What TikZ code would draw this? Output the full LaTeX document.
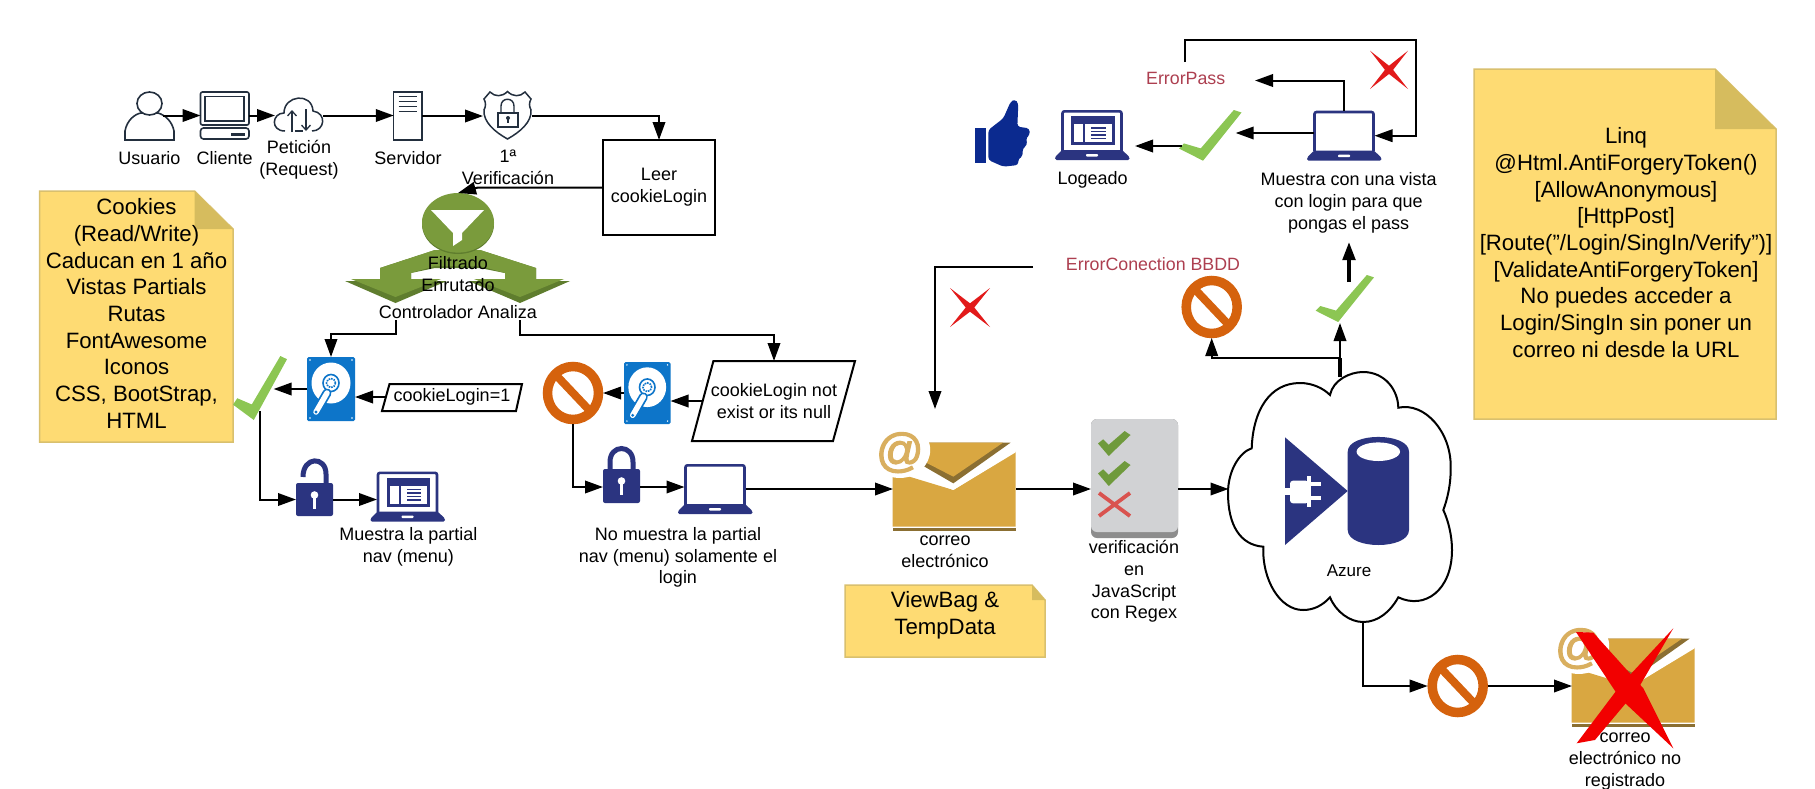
\documentclass[tikz,border=0pt]{standalone}
\usepackage{fontspec}
\setmainfont{Liberation Sans}
\newfontfamily\atfont[FakeBold=2.5]{Liberation Sans}
\usetikzlibrary{arrows.meta,calc}
\definecolor{navy}{HTML}{2B3480}
\definecolor{dkline}{HTML}{232F3E}
\definecolor{hddblue}{HTML}{0D75C9}
\definecolor{prohibc}{HTML}{D5620D}
\definecolor{chkgreen}{HTML}{8CC653}
\definecolor{chkdark}{HTML}{6F9A3C}
\definecolor{notey}{HTML}{FEDB73}
\definecolor{notebd}{HTML}{D9C06E}
\definecolor{notefold}{HTML}{D6BC5E}
\definecolor{envc}{HTML}{D9A741}
\definecolor{envd}{HTML}{8B6F32}
\definecolor{envat}{HTML}{D9AF5F}
\definecolor{panelg}{HTML}{D1D2D4}
\definecolor{panelb}{HTML}{8D8D8D}
\definecolor{panelx}{HTML}{D9534F}
\definecolor{grn}{HTML}{7A9B3C}
\definecolor{grnd}{HTML}{5F7D2E}
\definecolor{redx}{HTML}{E21A1A}
\definecolor{errc}{HTML}{AD3F50}
\definecolor{thumbc}{HTML}{0B2A8F}
\tikzset{
  arr/.style={draw=black,line width=2pt,-{Triangle[length=18pt,width=12.5pt]}},
  plain/.style={draw=black,line width=2pt},
  iconbox/.style={inner sep=0pt,outer sep=0pt,rectangle},
  lbl/.style={inner sep=0pt,outer sep=0pt,align=center,font=\fontsize{18}{21.7}\selectfont},
  notetxt/.style={inner sep=0pt,outer sep=0pt,align=center,font=\fontsize{22.2}{26.7}\selectfont},
  errtxt/.style={lbl,text=errc,font=\fontsize{17.8}{21}\selectfont},
  notebox/.style={fill=notey,draw=notebd,line width=1.5pt},
  foldbox/.style={fill=notefold},
  boxed/.style={draw=black,line width=2pt,fill=white},
}
\newcommand\yellownote[6]{%
  \path[notebox] (#1,#2) -- (#5,#2) -- (#3,#6) -- (#3,#4) -- (#1,#4) -- cycle;
  \fill[foldbox] (#5,#2) -- (#3,#6) -- (#5,#6) -- cycle;}
\newcommand\prohib[3]{%
  \node[iconbox,minimum width=60pt,minimum height=62pt] (#1) at (#2,#3) {};
  \draw[prohibc,line width=9.5pt] (#2,#3) ellipse [x radius=25.5pt,y radius=26.5pt];
  \draw[prohibc,line width=8pt] ($(#2,#3)+(-18,-19)$) -- ($(#2,#3)+(18,19)$);}
\newcommand\chk[5]{%
  \begin{scope}[shift={(#1,#2)},xscale=#3,yscale=#4]
  \fill[#5] (0,.76) -- (.385,1) -- (1,.05) -- (.877,0) -- (.348,.757) -- (.08,.66) -- cycle;
  \end{scope}}
\newcommand\fatchk[4]{%
  \begin{scope}[shift={(#1,#2)},xscale=#3,yscale=#4]
  \fill[chkdark] (0,.5) -- (.16,.33) -- (.33,.55) -- (.82,0) -- (1,.16) -- (.33,1) -- cycle;
  \end{scope}}
\newcommand\redcross[4]{%
  \begin{scope}[shift={(#1,#2)},xscale=#3,yscale=#4]
  \fill[redx] (0,0) -- (.56,.44) -- (1,1) -- (.44,.56) -- cycle;
  \fill[redx] (1,0) -- (.56,.56) -- (0,1) -- (.44,.44) -- cycle;
  \end{scope}}
\newcommand\hdd[5]{% name x y w h
  \node[iconbox,minimum width=#4pt,minimum height=#5pt,anchor=north west] (#1) at (#2,#3) {};
  \begin{scope}[shift={(#2,#3)},xscale=#4/48,yscale=#5/64]
  \fill[hddblue,rounded corners=1.5pt] (0,0) rectangle (48,64);
  \foreach \px/\py in {3/3,45/3,3/61,45/61}{\fill[white] (\px,\py) circle [radius=.8pt];}
  \fill[white] (24,26) ellipse [x radius=19.5pt,y radius=20.5pt];
  \draw[hddblue,line width=1.6pt] (24,26) ellipse [x radius=8pt,y radius=8.5pt];
  \draw[hddblue,line width=1.6pt,densely dotted] (24,26) ellipse [x radius=4.5pt,y radius=4.5pt];
  \draw[hddblue,line width=9pt,line cap=round] (20,36) -- (9,55);
  \draw[white,line width=5.5pt,line cap=round] (20,36) -- (9,55);
  \fill[hddblue] (9,55) circle [radius=1.6pt];
  \end{scope}}
\newcommand\laptop[3]{% name x y (x,y: left of base, top of screen)
  \node[iconbox,minimum width=61pt,minimum height=50pt,anchor=north west] (#1) at (#2+6.5,#3) {};
  \begin{scope}[shift={(#2,#3)}]
  \draw[navy,line width=2.6pt,fill=white,rounded corners=2pt] (7.5,41) -- (7.5,1.3) -- (66.5,1.3) -- (66.5,41);
  \fill[navy,rounded corners=1.5pt] (7,40) -- (67,40) -- (74.5,47) -- (74.5,50) -- (0,50) -- (0,47) -- cycle;
  \fill[white,rounded corners=.8pt] (31,44) rectangle (43,46.5);
  \end{scope}}
\newcommand\lappage[2]{%
  \begin{scope}[shift={(#1,#2)}]
  \fill[navy] (16,6) rectangle (59.5,35);
  \fill[white] (19,14) rectangle (28,32);
  \fill[white] (30,14) rectangle (56.5,32);
  \foreach \ly in {17,20.5,24,27.5}{\fill[navy] (36,\ly) rectangle (50.5,\ly+1.6);}
  \end{scope}}
\newcommand\envelope[2]{%
  \begin{scope}[shift={(540+#1,340+#2)},xscale=.4209,yscale=.3333]
  \fill[envc] (838,395) -- (982,450) -- (1130,335) -- (1130,560) -- (838,560) -- cycle;
  \fill[envd] (838,565) rectangle (1130,572);
  \fill[white] (1130,325) -- (982,445) -- (880,370) -- (880,395) -- (982,450) -- (1130,337) -- cycle;
  \fill[envd] (920,308) -- (1118,308) -- (982,430) -- (900,370) -- cycle;
  \fill[envc] (920,308) -- (1100,308) -- (982,410) -- (905,360) -- cycle;
  \fill[white] (855,330) ellipse [x radius=72pt,y radius=84pt];
  \node[inner sep=0pt,text=envat,font=\atfont\fontsize{47}{47}\selectfont] at (855,338) {@};
  \end{scope}}
\begin{document}
\begin{tikzpicture}[x=1pt,y=-1pt]
\useasboundingbox (0,0) rectangle (1815,788);
\fill[white] (0,0) rectangle (1815,788);

% ---- top row icons
\node[iconbox,minimum width=49pt,minimum height=48pt] (usuario) at (149.5,116) {};
\draw[dkline,line width=1.6pt,fill=white] (125,140) -- (125,131) .. controls (127,120) and (135,114) .. (141,113) -- (158,113) .. controls (165,115) and (172,121) .. (174,131) -- (174,140) -- cycle;
\draw[dkline,line width=1.6pt,fill=white] (149.5,103.5) ellipse [x radius=12.5pt,y radius=11.5pt];
\coordinate (usuOut) at (163,115.5);
\node[lbl] (tusuario) at (149.5,158) {Usuario};

\node[iconbox,minimum width=48.5pt,minimum height=47pt] (cliente) at (224.8,115.5) {};
\draw[dkline,line width=1.6pt,rounded corners=2pt] (200.5,92) rectangle (249,125);
\draw[dkline,line width=1.6pt] (205,96.5) rectangle (244,121);
\draw[dkline,line width=1.6pt,rounded corners=3pt] (200.5,128) rectangle (249,139);
\fill[dkline] (231,132.5) rectangle (245,135.5);
\node[lbl] (tcliente) at (224.6,158) {Cliente};

\node[iconbox,minimum width=48pt,minimum height=32pt] (nube) at (299,115.5) {};
\draw[dkline,line width=1.5pt] (285,131) .. controls (270,131) and (272,113) .. (284,113) .. controls (284,95) and (312,92) .. (313,111) .. controls (327,113) and (325,131) .. (312,131);
\draw[dkline,line width=1.5pt] (295,131) -- (303,131);
\draw[dkline,line width=1.3pt,-{Straight Barb[length=5pt,width=9pt]}] (292,132) -- (292,110);
\draw[dkline,line width=1.3pt,-{Straight Barb[length=5pt,width=9pt]}] (306,109) -- (306,131);
\node[lbl] (tpeticion) at (299,160) {Petición\\(Request)};

\node[iconbox,minimum width=28.5pt,minimum height=48pt] (servidor) at (408,116) {};
\draw[dkline,line width=1.6pt] (393.5,92) rectangle (422,140);
\foreach \ly in {96.7,101.7,106.7,111.7}{\draw[dkline,line width=1.4pt] (398.6,\ly) -- (417,\ly);}
\node[lbl] (tservidor) at (408,158.5) {Servidor};

\node[iconbox,minimum width=49pt,minimum height=48pt] (escudo) at (507.5,115.5) {};
\draw[dkline,line width=1.5pt] (507.5,91.5) .. controls (502,97) and (495,97) .. (490,92) -- (484,99) .. controls (486,103) and (486,106) .. (484,110) .. controls (483,122) and (495,132) .. (507.5,139) .. controls (520,132) and (532,122) .. (531,110) .. controls (529,106) and (529,103) .. (531,99) -- (525,92) .. controls (520,97) and (513,97) .. (507.5,91.5) -- cycle;
\draw[dkline,line width=1.4pt] (498,113) rectangle (518,127);
\draw[dkline,line width=1.4pt] (501,113) -- (501,106) .. controls (501,97) and (514,97) .. (514,106) -- (514,113);
\fill[dkline] (508,118) circle [radius=2pt];
\draw[dkline,line width=1.2pt] (508,118) -- (508,123);
\node[lbl] (tverif) at (508,167.5) {1ª\\Verificación};

% ---- Leer
\node[draw=black,line width=2pt,fill=white,lbl,minimum width=112pt,minimum height=95pt] (leer) at (659,187.5) {Leer\\cookieLogin};

% ---- Filter / double arrow
\fill[grnd] (435,250) -- (380,268) -- (380,281) -- (345,281) -- (395.5,303) -- (447,281) -- (411,281) -- (411,273) -- (435,268) -- (480,268) -- (505,273) -- (505,281) -- (468.5,281) -- (520,303) -- (570,281) -- (536,281) -- (536,268) -- (480,250) -- cycle;
\fill[grn] (435,250) -- (380,268) -- (380,279) -- (351,279) -- (395.5,297) -- (441,279) -- (411,279) -- (411,273) -- (435,266) -- (480,266) -- (505,273) -- (505,279) -- (474,279) -- (520,297) -- (564,279) -- (536,279) -- (536,268) -- (480,250) -- cycle;
\node[iconbox,minimum width=72pt,minimum height=60pt] (filtro) at (458,223) {};
\fill[grnd] (458,224) ellipse [x radius=36pt,y radius=30pt];
\fill[grn] (458,222.8) ellipse [x radius=36pt,y radius=29.8pt];
\fill[white] (431,210) -- (484,210) -- (462,233) -- (462,240) -- (453,246) -- (453,233) -- cycle;
\node[lbl] (tfiltro) at (458,274) {Filtrado\\Enrutado};
\node[lbl] (tctrl) at (458,312) {Controlador Analiza};
\coordinate (ctrlL) at (395.5,320);
\coordinate (ctrlR) at (520,320);

% ---- left note
\yellownote{39.5}{191}{233}{442}{194.5}{229}
\node[notetxt] (nota1) at (136.5,313.5) {Cookies\\(Read/Write)\\Caducan en 1 año\\Vistas Partials\\Rutas\\FontAwesome\\Iconos\\CSS, BootStrap,\\HTML};

% ---- left branch
\hdd{hddA}{307}{357}{48}{64}
\chk{233}{356}{54}{64}{chkgreen}
\coordinate (chkAin) at (273.6,389);
\coordinate (chkAout) at (260,411);
\path[boxed] (389.5,384) -- (522,384) -- (516,411) -- (382,411) -- cycle;
\node[lbl,minimum width=134pt,minimum height=27pt] (cookieA) at (452,397) {cookieLogin=1};
% open lock
\node[iconbox,minimum width=37pt,minimum height=33pt] (lockO) at (314.5,499.5) {};
\draw[navy,line width=5pt] (303,477) .. controls (303,456) and (326,456) .. (326,474) -- (326,486);
\fill[navy,rounded corners=2pt] (296,483) rectangle (333,516);
\fill[white] (314.5,495) circle [radius=3.8pt];
\fill[white] (312.6,495) rectangle (316.4,509);
\laptop{lapA}{370.5}{471.5}
\lappage{370.5}{471.5}
\node[lbl] (tpartial) at (408.4,546.5) {Muestra la partial\\nav (menu)};

% ---- middle branch
\prohib{pB}{573}{393}
\hdd{hddB}{624}{362}{46.5}{62}
\path[boxed] (713.4,361) -- (855,361) -- (833,441) -- (692,441) -- cycle;
\node[lbl,minimum width=144pt,minimum height=80pt] (cookieB) at (774,401) {cookieLogin not\\exist or its null};
% closed lock
\node[iconbox,minimum width=37pt,minimum height=34pt] (lockC) at (621.5,487) {};
\draw[navy,line width=5pt] (610,472) -- (610,462) .. controls (610,444) and (633,444) .. (633,462) -- (633,472);
\fill[navy,rounded corners=2pt] (603,469) rectangle (640,503);
\fill[white] (621.5,481) circle [radius=3.8pt];
\fill[white] (619.6,481) rectangle (623.4,495);
\laptop{lapC}{678}{464}
\node[lbl] (tnomuestra) at (678,557.5) {No muestra la partial\\nav (menu) solamente el\\login};

% ---- envelope, panel
\node[iconbox,minimum width=123pt,minimum height=82pt] (env) at (954.5,489) {};
\envelope{0}{0}
\node[lbl] (tcorreo) at (945,551.5) {correo\\electrónico};
\yellownote{845}{585}{1045}{657}{1032}{600}
\node[notetxt] (nota2) at (945,615) {ViewBag \&\\TempData};
\coordinate (bbddOut) at (1033,267);
\coordinate (envIn) at (935,409);

\fill[panelb,rounded corners=6pt] (1091,419) rectangle (1178,538);
\fill[panelg,rounded corners=6pt] (1091,419) rectangle (1178,532);
\node[iconbox,minimum width=87pt,minimum height=98pt] (panel) at (1134.5,489) {};
\fatchk{1098}{431}{32.5}{25}
\fatchk{1098}{461}{32.5}{25}
\draw[panelx,line width=3.8pt] (1099,493) -- (1130,516) (1130,493) -- (1099,516);
\node[lbl] (tpanel) at (1134,581.5) {verificación\\en\\JavaScript\\con Regex};

% ---- Azure cloud
\node[iconbox,minimum width=223pt,minimum height=245pt] (azure) at (1340,499.5) {};
\draw[black,line width=2pt,fill=white] (1330,395) .. controls (1333,380) and (1350,372) .. (1363,372) .. controls (1385,372) and (1398,390) .. (1398.3,407.7) .. controls (1425,402) and (1451,432) .. (1450.7,466.7) .. controls (1451,485) and (1447,500) .. (1443.3,510) .. controls (1448,520) and (1452,535) .. (1452,550) .. controls (1452,590) and (1425,610) .. (1398.3,597.3) .. controls (1390,612) and (1378,622) .. (1363,622) .. controls (1350,622) and (1336,612) .. (1330,597.3) .. controls (1322,606) and (1313,610) .. (1303,610) .. controls (1280,610) and (1262,580) .. (1263.3,546.7) .. controls (1240,545) and (1228,525) .. (1228,493) .. controls (1228,470) and (1240,452) .. (1251.7,448.3) .. controls (1253,410) and (1270,383) .. (1300,383) .. controls (1312,383) and (1323,388) .. (1330,395) -- cycle;
\fill[navy] (1285,437.3) -- (1285,545) -- (1347.7,491) -- cycle;
\fill[navy] (1347.7,451.7) -- (1347.7,530) .. controls (1347.7,550) and (1409,550) .. (1409,530) -- (1409,451.7) .. controls (1409,432) and (1347.7,432) .. (1347.7,451.7) -- cycle;
\fill[white] (1378.3,451.7) ellipse [x radius=21.7pt,y radius=9.3pt];
\begin{scope}[shift={(1200,360)},scale=.3333]
  \fill[white,rounded corners=3pt] (270,362) rectangle (326,430);
  \fill[white] (255,385) rectangle (275,405);
  \fill[white] (320,348) rectangle (332,440);
  \fill[white] (330,365) rectangle (362,378);
  \fill[white] (330,408) rectangle (362,420);
\end{scope}
\node[lbl,font=\fontsize{17}{20}\selectfont] (tazure) at (1349,570.3) {Azure};
\coordinate (azOut) at (1363.3,622);
\coordinate (azJ) at (1340,358);

% ---- bottom right
\prohib{pD}{1457.7}{686}
\node[iconbox,minimum width=123pt,minimum height=89pt] (envX) at (1633.5,686) {};
\envelope{679}{196}
\node[lbl] (tcorreoX) at (1625,761.5) {correo\\electrónico no\\registrado};
\begin{scope}[shift={(1200,360)},scale=.3333]
  \fill[red!95!black] (1128,816) -- (1180,818) -- (1330,985) -- (1420,1165) -- (1260,1015) -- cycle;
  \fill[red!95!black] (1420,805) -- (1315,985) -- (1185,1140) -- (1130,1150) -- (1262,975) -- cycle;
\end{scope}

% ---- top right
\begin{scope}[shift={(940,20)},scale=.3333]
  \fill[thumbc] (105,323) rectangle (138,430);
  \fill[thumbc,rounded corners=3pt] (145,330) -- (190,295) -- (212,245) -- (225,238) -- (235,250) -- (232,320) -- (268,325) -- (270,345) -- (258,352) -- (262,375) -- (248,385) -- (248,410) -- (235,415) -- (235,435) -- (190,440) -- (145,420) -- cycle;
\end{scope}
\laptop{lapL}{1055}{110}
\lappage{1055}{110}
\coordinate (lapLin) at (1135,146);
\node[lbl] (tlogeado) at (1092.7,180) {Logeado};
\chk{1179}{110}{62.5}{50.7}{chkgreen}
\coordinate (chkBin) at (1235.7,133);
\coordinate (chkBout) at (1181.7,146);
\laptop{lapD}{1307}{110.7}
\node[lbl] (tvista) at (1348.7,203) {Muestra con una vista\\con login para que\\pongas el pass};
\node[errtxt] (terrpass) at (1185.7,78.7) {ErrorPass};
\coordinate (epIn) at (1255,80.5);
\coordinate (epOut) at (1185,62);
\coordinate (loopC) at (1416,40);
\redcross{1370}{50.7}{38}{38.3}
\redcross{950}{288}{40}{39}
\node[errtxt] (terrbbdd) at (1153,264) {ErrorConection BBDD};
\prohib{pC}{1211.7}{307}
\chk{1315.7}{275}{58.3}{47}{chkgreen}
\coordinate (chkCin) at (1340,323);
\coordinate (chkCout) at (1349,282);
\coordinate (vistaIn) at (1349,242);

% ---- right note
\yellownote{1474}{69}{1776}{419}{1715}{129}
\node[notetxt] (nota3) at (1626,242.5) {Linq\\@Html.AntiForgeryToken()\\{[}AllowAnonymous]\\{[}HttpPost]\\{[}Route("/Login/SingIn/Verify")]\\{[}ValidateAntiForgeryToken]\\No puedes acceder a\\Login/SingIn sin poner un\\correo ni desde la URL};

% ---- connectors
\draw[arr] (usuOut) -- (usuOut -| cliente.west);
\draw[arr] (cliente.east) -- (cliente.east -| nube.west);
\draw[arr] (nube.east) -- (nube.east -| servidor.west);
\draw[arr] (servidor.east) -- (servidor.east -| escudo.west);
\draw[arr] (escudo.east) -| (leer.north);
\coordinate (leerElbow) at (478,187.5);
\draw[arr] (leer.west) -- (leerElbow) -- (filtro.north);
\draw[arr] (ctrlL) -- ++(0,14) -| (hddA.north);
\draw[arr] (ctrlR) -- ++(0,15) -| (cookieB.north);
\draw[arr] (cookieA.west) -- (cookieA.west -| hddA.east);
\draw[arr] (hddA.west) -- (chkAin);
\draw[arr] (chkAout) |- (lockO.west);
\draw[arr] (lockO.east) -- (lockO.east -| lapA.west);
\draw[arr] (cookieB.west) -- (cookieB.west -| hddB.east);
\draw[arr] (hddB.west) -- (pB.east);
\draw[arr] (pB.south) |- (lockC.west);
\draw[arr] (lockC.east) -- (lockC.east -| lapC.west);
\draw[arr] (lapC.east) -- (env.west);
\draw[arr] (env.east) -- (panel.west);
\draw[arr] (panel.east) -- (panel.east -| azure.west);
\draw[arr] (bbddOut) -| (envIn);
\draw[arr] (azure.north) -- (chkCin);
\draw[plain,line width=3.5pt] (azure.north) -- (azJ);
\draw[arr] (azJ) -| (pC.south);
\draw[arr,line width=3.5pt] (chkCout) -- (vistaIn);
\draw[arr] (azOut) |- (pD.west);
\draw[arr] (pD.east) -- (pD.east -| envX.west);
\draw[arr] (lapD.north) |- (epIn);
\draw[arr] (lapD.west |- chkBin) -- (chkBin);
\draw[arr] (chkBout) -- (lapLin);
\draw[arr] (epOut) |- (loopC) -- (loopC |- lapD.east) -- (lapD.east);
\end{tikzpicture}
\end{document}
